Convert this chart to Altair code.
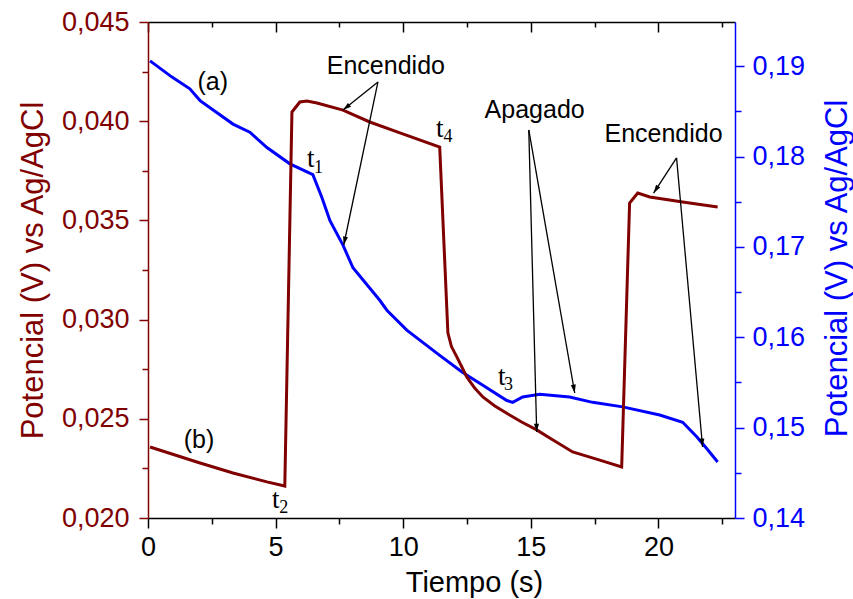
import math
import altair as alt
import pandas as pd

# ---------------- data ----------------
# curve (a): blue, right axis
t_a = [0.08, 0.94, 1.64, 2.04, 3.33, 3.99, 4.66, 5.56, 6.46, 6.81, 7.13, 7.64, 8.03,
       9.08, 9.36, 10.14, 11.43, 12.33, 13.12, 14.06, 14.29, 14.68, 15.35, 16.52,
       17.42, 18.60, 20.05, 20.95, 21.50, 21.89, 22.32]
v_a = [0.1906, 0.1888, 0.1875, 0.1862, 0.1836, 0.1827, 0.1810, 0.1792, 0.1780, 0.1755,
       0.1729, 0.1702, 0.1677, 0.1641, 0.1630, 0.1608, 0.1580, 0.1561, 0.1547, 0.1530,
       0.1528, 0.1534, 0.1537, 0.1534, 0.1528, 0.1523, 0.1514, 0.1506, 0.1490, 0.1477,
       0.1462]

# curve (b): dark red, left axis
t_b = [0.08, 2.04, 3.33, 4.66, 5.36, 5.64, 5.95, 6.23, 6.62, 7.64, 8.69, 9.87, 11.43,
       11.75, 11.89, 12.10, 12.49, 12.80, 13.12, 13.59, 14.17, 14.64, 15.23, 15.74,
       16.64, 17.70, 18.56, 18.87, 19.19, 19.66, 20.95, 22.32]
v_b = [0.02358, 0.02277, 0.02227, 0.02182, 0.02161, 0.04046, 0.04097, 0.04102, 0.04092,
       0.04056, 0.03996, 0.03941, 0.03870, 0.02933, 0.02864, 0.02812, 0.02711, 0.02655,
       0.02610, 0.02565, 0.02519, 0.02484, 0.02444, 0.02403, 0.02333, 0.02292, 0.02257,
       0.03588, 0.03638, 0.03618, 0.03593, 0.03568]

# annotation texts (in left-axis coordinates)
ann_text = ["(a)", "(b)", "Encendido", "Apagado", "Encendido"]
ann_t = [2.54, 2.00, 9.32, 15.15, 20.20]
ann_v = [0.04198, 0.02393, 0.04278, 0.04056, 0.03936]

# time markers t1..t4
tl_t = [6.38, 5.01, 13.86, 11.43]
tl_v = [0.03769, 0.02050, 0.02670, 0.03920]
sub_text = ["1", "2", "3", "4"]
sub_t = [6.68, 5.32, 14.13, 11.75]
sub_v = [0.03739, 0.02025, 0.02645, 0.03895]

# arrows (start -> tip), left-axis coordinates
arr_t0 = [9.01, 9.01, 14.92, 14.92, 20.71, 20.71]
arr_v0 = [0.04198, 0.04198, 0.03956, 0.03956, 0.03815, 0.03815]
arr_t1 = [7.64, 7.67, 15.23, 16.72, 19.81, 21.73]
arr_v1 = [0.04056, 0.03376, 0.02433, 0.02630, 0.03638, 0.02358]

x_ticks = [0, 2.5, 5, 7.5, 10, 12.5, 15, 17.5, 20, 22.5]
yl_ticks = [0.020, 0.0225, 0.025, 0.0275, 0.030, 0.0325, 0.035, 0.0375, 0.040, 0.0425, 0.045]
yr_ticks = [0.14, 0.145, 0.15, 0.155, 0.16, 0.165, 0.17, 0.175, 0.18, 0.185, 0.19]

X_DOM = [0, 23]
YL_DOM = [0.020, 0.045]
YR_DOM = [0.14, 0.1949]

W, H = 587, 496
RED = "#800000"
BLUE = "#0000FF"
SANS = "Liberation Sans"
SERIF = "Liberation Serif"

# ---------------- frames ----------------
df_a = pd.DataFrame({"t": t_a, "v": v_a, "i": range(len(t_a))})
df_b = pd.DataFrame({"t": t_b, "v": v_b, "i": range(len(t_b))})
df_ann = pd.DataFrame({"t": ann_t, "v": ann_v, "txt": ann_text})
df_tl = pd.DataFrame({"t": tl_t, "v": tl_v, "txt": ["t"] * len(tl_t)})
df_sub = pd.DataFrame({"t": sub_t, "v": sub_v, "txt": sub_text})

px_x = W / (X_DOM[1] - X_DOM[0])
px_y = H / (YL_DOM[1] - YL_DOM[0])
angs = []
for a0, b0, a1, b1 in zip(arr_t0, arr_v0, arr_t1, arr_v1):
    dx = (a1 - a0) * px_x
    dy = -(b1 - b0) * px_y
    angs.append(math.degrees(math.atan2(dx, -dy)) % 360)
df_arr = pd.DataFrame({"t0": arr_t0, "v0": arr_v0, "t1": arr_t1, "v1": arr_v1, "ang": angs})

xs = alt.Scale(domain=X_DOM, nice=False, zero=False)
yls = alt.Scale(domain=YL_DOM, nice=False, zero=False)
yrs = alt.Scale(domain=YR_DOM, nice=False, zero=False)

x_major = "datum.value % 5 == 0"
yl_major = "round(datum.value * 1000) % 5 == 0"
yr_major = "round(datum.value * 1000) % 10 == 0"

bottom_axis = alt.Axis(
    orient="bottom", values=x_ticks, grid=False,
    labelExpr=f"{x_major} ? format(datum.value, 'd') : ''",
    tickSize={"condition": {"test": x_major, "value": 10}, "value": 6},
    tickColor="black", tickWidth=1.5, domainColor="black", domainWidth=1.5,
    labelColor="black", labelFont=SANS, labelFontSize=27, labelPadding=6,
    labelFlush=False, labelOverlap=False,
    title="Tiempo (s)", titleFont=SANS, titleFontSize=29, titleFontWeight="normal",
    titleColor="black", titleX=326, titleY=73, titleAlign="center",
    titleBaseline="alphabetic", titleAngle=0,
)

top_axis = alt.Axis(
    orient="bottom", offset=-H, values=x_ticks, grid=False, labels=False,
    tickSize={"condition": {"test": x_major, "value": 10}, "value": 5},
    tickColor="black", tickWidth=1.5, domainColor="black", domainWidth=1.5,
    title=None,
)

left_axis = alt.Axis(
    orient="left", values=yl_ticks, grid=False,
    labelExpr=f"{yl_major} ? replace(format(datum.value, '.3f'), '.', ',') : ''",
    tickSize={"condition": {"test": yl_major, "value": 9}, "value": 6},
    tickColor=RED, tickWidth=1.5, domainColor=RED, domainWidth=1.5,
    labelColor=RED, labelFont=SANS, labelFontSize=27, labelPadding=10,
    labelFlush=False, labelOverlap=False,
    title="Potencial (V)  vs Ag/AgCl", titleFont=SANS, titleFontSize=31,
    titleFontWeight="normal", titleColor=RED, titleAngle=270,
    titleX=-106, titleY=248, titleAlign="center", titleBaseline="alphabetic",
)

right_axis = alt.Axis(
    orient="right", values=yr_ticks, grid=False,
    labelExpr=f"{yr_major} ? replace(format(datum.value, '.2f'), '.', ',') : ''",
    tickSize={"condition": {"test": yr_major, "value": 9}, "value": 6},
    tickColor=BLUE, tickWidth=1.5, domainColor=BLUE, domainWidth=1.5,
    labelColor=BLUE, labelFont=SANS, labelFontSize=27, labelPadding=8,
    labelFlush=False, labelOverlap=False,
    title="Potencial (V)  vs Ag/AgCl", titleFont=SANS, titleFontSize=31,
    titleFontWeight="normal", titleColor=BLUE, titleAngle=270,
    titleX=111, titleY=246, titleAlign="center", titleBaseline="alphabetic",
)

blue = alt.Chart(df_a).mark_line(color=BLUE, strokeWidth=3).encode(
    x=alt.X("t:Q", scale=xs, axis=top_axis),
    y=alt.Y("v:Q", scale=yrs, axis=right_axis),
    order="i:Q",
)

red = alt.Chart(df_b).mark_line(color=RED, strokeWidth=3).encode(
    x=alt.X("t:Q", scale=xs, axis=bottom_axis),
    y=alt.Y("v:Q", scale=yls, axis=left_axis),
    order="i:Q",
)

ann = alt.Chart(df_ann).mark_text(
    font=SANS, fontSize=25, color="black", align="center", baseline="middle"
).encode(
    x=alt.X("t:Q", scale=xs, axis=None),
    y=alt.Y("v:Q", scale=yls, axis=None),
    text="txt:N",
)

tlab = alt.Chart(df_tl).mark_text(
    font=SERIF, fontSize=27, color="black", align="center", baseline="alphabetic"
).encode(
    x=alt.X("t:Q", scale=xs, axis=None),
    y=alt.Y("v:Q", scale=yls, axis=None),
    text="txt:N",
)

tsub = alt.Chart(df_sub).mark_text(
    font=SERIF, fontSize=18, color="black", align="center", baseline="alphabetic"
).encode(
    x=alt.X("t:Q", scale=xs, axis=None),
    y=alt.Y("v:Q", scale=yls, axis=None),
    text="txt:N",
)

arr_lines = alt.Chart(df_arr).mark_rule(color="black", strokeWidth=1.3).encode(
    x=alt.X("t0:Q", scale=xs, axis=None),
    y=alt.Y("v0:Q", scale=yls, axis=None),
    x2="t1:Q",
    y2="v1:Q",
)

arr_heads = alt.Chart(df_arr).mark_point(
    shape="M0,0 L-0.3,1 L0.3,1 Z", filled=True, color="black", size=280, opacity=1
).encode(
    x=alt.X("t1:Q", scale=xs, axis=None),
    y=alt.Y("v1:Q", scale=yls, axis=None),
    angle=alt.Angle("ang:Q", scale=None),
)

chart = alt.layer(blue, red, ann, tlab, tsub, arr_lines, arr_heads).resolve_scale(
    y="independent"
).resolve_axis(
    x="independent", y="independent"
).properties(
    width=W, height=H,
    autosize=alt.AutoSizeParams(type="none"),
    padding={"left": 148, "top": 22, "right": 118, "bottom": 81},
    background="white",
).configure_view(stroke=None)

chart.save("out.html", embed_options={"renderer": "svg", "actions": False})
